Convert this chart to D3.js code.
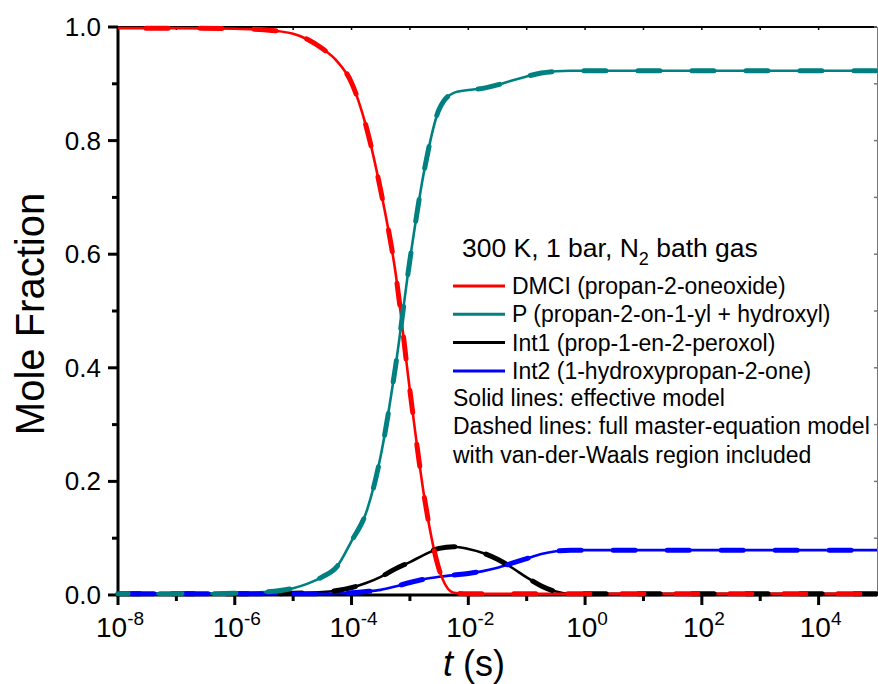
<!DOCTYPE html>
<html>
<head>
<meta charset="utf-8">
<script src="https://cdn.jsdelivr.net/npm/d3@7"></script>
<style>
  html, body { margin: 0; padding: 0; background: #fff; }
  svg { display: block; font-family: "Liberation Sans", Arial, Helvetica, sans-serif; }
</style>
</head>
<body>
<svg id="chart" width="878" height="684"></svg>
<script>
// ---------- data ----------
const timeExp = [-8,-7,-6,-5.5,-5,-4.75,-4.5,-4.25,-4,-3.75,-3.5,-3.25,-3,-2.75,-2.5,-2.25,-2,-1.75,-1.5,-1.25,-1,-0.75,-0.5,-0.25,0,0.5,1,2,3,4,5];
const timeS = timeExp.map(e => Math.pow(10, e)); // time in seconds

const dmci = [0.998,0.998,0.997,0.995,0.988,0.978,0.962,0.94,0.902,0.825,0.712,0.57,0.36,0.17,0.045,0.004,0.002,0.002,0.002,0.002,0.002,0.002,0.002,0.002,0.002,0.002,0.002,0.002,0.002,0.002,0.002];
const prod = [0.002,0.002,0.003,0.005,0.012,0.02,0.032,0.05,0.095,0.145,0.245,0.40,0.59,0.75,0.855,0.884,0.889,0.892,0.898,0.906,0.913,0.919,0.922,0.923,0.923,0.923,0.923,0.923,0.923,0.923,0.923];
const int1 = [0.002,0.002,0.002,0.002,0.003,0.004,0.005,0.008,0.013,0.021,0.032,0.046,0.058,0.071,0.082,0.085,0.081,0.074,0.063,0.048,0.031,0.016,0.006,0.002,0.002,0.002,0.002,0.002,0.002,0.002,0.002];
const int2 = [0.002,0.002,0.002,0.002,0.002,0.002,0.002,0.003,0.004,0.006,0.009,0.015,0.022,0.028,0.032,0.035,0.038,0.042,0.048,0.056,0.064,0.072,0.077,0.079,0.079,0.079,0.079,0.079,0.079,0.079,0.079];

const seriesNames = ["Int1 (prop-1-en-2-peroxol)","Int2 (1-hydroxypropan-2-one)","DMCI (propan-2-oneoxide)","P (propan-2-on-1-yl + hydroxyl)"];
const seriesColors = ["#000000","#0000ff","#ff0000","#008080"];
const seriesValues = [int1, int2, dmci, prod];
const legendOrder = [2, 3, 0, 1];

const xMajorExp = [-8,-6,-4,-2,0,2,4];
const xMinorExp = [-7,-5,-3,-1,1,3];
const yMajor = [0,0.2,0.4,0.6,0.8,1.0];
const yMinor = [0.1,0.3,0.5,0.7,0.9];

const legendTitle = ["300 K, 1 bar, N", "2", " bath gas"];
const noteLines = ["Solid lines: effective model","Dashed lines: full master-equation model","with van-der-Waals region included"];

// ---------- layout ----------
const L = 118, R = 877, T = 27, B = 595;
const svg = d3.select("#chart");
const x = d3.scaleLog().domain([1e-8, 1e5]).range([L, R]);
const y = d3.scaleLinear().domain([0, 1]).range([B, T]);

// frame (top and right)
svg.append("line").attr("x1", L).attr("x2", R).attr("y1", T).attr("y2", T)
  .attr("stroke", "#000").attr("stroke-width", 2);
svg.append("line").attr("x1", R+0.5).attr("x2", R+0.5).attr("y1", T).attr("y2", B)
  .attr("stroke", "#777").attr("stroke-width", 1);
// small inward ticks on top axis
svg.append("g").selectAll("line").data(xMajorExp.concat(xMinorExp)).join("line")
  .attr("x1", d => x(Math.pow(10,d))).attr("x2", d => x(Math.pow(10,d)))
  .attr("y1", T).attr("y2", T+3).attr("stroke", "#000").attr("stroke-width", 1.5);

// x axis
const xAxis = svg.append("g").attr("transform", `translate(0,${B})`);
xAxis.append("line").attr("x1", L-1.5).attr("x2", R).attr("y1", 0).attr("y2", 0)
  .attr("stroke", "#000").attr("stroke-width", 3);
xAxis.selectAll(".maj").data(xMajorExp).join("line").attr("class","maj")
  .attr("x1", d => x(Math.pow(10,d))).attr("x2", d => x(Math.pow(10,d)))
  .attr("y1", 0).attr("y2", 10).attr("stroke", "#000").attr("stroke-width", 3);
xAxis.selectAll(".min").data(xMinorExp).join("line").attr("class","min")
  .attr("x1", d => x(Math.pow(10,d))).attr("x2", d => x(Math.pow(10,d)))
  .attr("y1", 0).attr("y2", 6).attr("stroke", "#000").attr("stroke-width", 3);
const xl = xAxis.selectAll(".lab").data(xMajorExp).join("text").attr("class","lab")
  .attr("x", d => x(Math.pow(10,d)) + 2).attr("y", 42)
  .attr("text-anchor", "middle").attr("font-size", 28);
xl.append("tspan").text("10");
xl.append("tspan").attr("dy", -12).attr("font-size", 19).text(d => String(d));

// y axis
const yAxis = svg.append("g").attr("transform", `translate(${L},0)`);
yAxis.append("line").attr("x1", 0).attr("x2", 0).attr("y1", T).attr("y2", B+1.5)
  .attr("stroke", "#000").attr("stroke-width", 3);
yAxis.selectAll(".maj").data(yMajor).join("line").attr("class","maj")
  .attr("x1", 0).attr("x2", -10).attr("y1", d => y(d)).attr("y2", d => y(d))
  .attr("stroke", "#000").attr("stroke-width", 3);
yAxis.selectAll(".min").data(yMinor).join("line").attr("class","min")
  .attr("x1", 0).attr("x2", -6).attr("y1", d => y(d)).attr("y2", d => y(d))
  .attr("stroke", "#000").attr("stroke-width", 3);
yAxis.selectAll(".lab").data(yMajor).join("text").attr("class","lab")
  .attr("x", -17).attr("y", d => y(d) + 9)
  .attr("text-anchor", "end").attr("font-size", 26)
  .text(d => d3.format(".1f")(d));

// right-side inward ticks
svg.append("g").selectAll("line").data(yMajor.concat(yMinor)).join("line")
  .attr("x1", R).attr("x2", R-3).attr("y1", d => y(d)).attr("y2", d => y(d))
  .attr("stroke", "#777").attr("stroke-width", 1.5);

// axis titles
svg.append("text").attr("transform", `translate(44,314) rotate(-90)`)
  .attr("text-anchor", "middle").attr("font-size", 40).text("Mole Fraction");
const xt = svg.append("text").attr("x", 474).attr("y", 676)
  .attr("text-anchor", "middle").attr("font-size", 36);
xt.append("tspan").attr("font-style", "italic").text("t");
xt.append("tspan").text(" (s)");

// ---------- curves ----------
const line = d3.line()
  .x((d, i) => x(timeS[i]))
  .y(d => y(d))
  .curve(d3.curveMonotoneX);

const curves = svg.append("g");
seriesValues.forEach((vals, k) => {
  curves.append("path").attr("d", line(vals))
    .attr("fill", "none").attr("stroke", seriesColors[k]).attr("stroke-width", 2.6)
    .attr("stroke-linejoin", "round");
});
seriesValues.forEach((vals, k) => {
  curves.append("path").attr("d", line(vals))
    .attr("fill", "none").attr("stroke", seriesColors[k]).attr("stroke-width", 5)
    .attr("stroke-dasharray", "22,32").attr("stroke-linecap", "round")
    .attr("stroke-dashoffset", -k*14);
});

// ---------- legend ----------
const lg = svg.append("g");
const tt = lg.append("text").attr("x", 462).attr("y", 257).attr("font-size", 26.5);
tt.append("tspan").text(legendTitle[0]);
tt.append("tspan").attr("font-size", 18).attr("dy", 8).text(legendTitle[1]);
tt.append("tspan").attr("dy", -8).text(legendTitle[2]);

legendOrder.forEach((k, i) => {
  const yy = 286 + i * 28.3;
  lg.append("line").attr("x1", 453).attr("x2", 505).attr("y1", yy).attr("y2", yy)
    .attr("stroke", seriesColors[k]).attr("stroke-width", 3);
  lg.append("text").attr("x", 512).attr("y", yy + 8).attr("font-size", 23)
    .text(seriesNames[k]);
});
noteLines.forEach((s, i) => {
  lg.append("text").attr("x", 453).attr("y", 406 + i * 28.3).attr("font-size", 23).text(s);
});
</script>
</body>
</html>
